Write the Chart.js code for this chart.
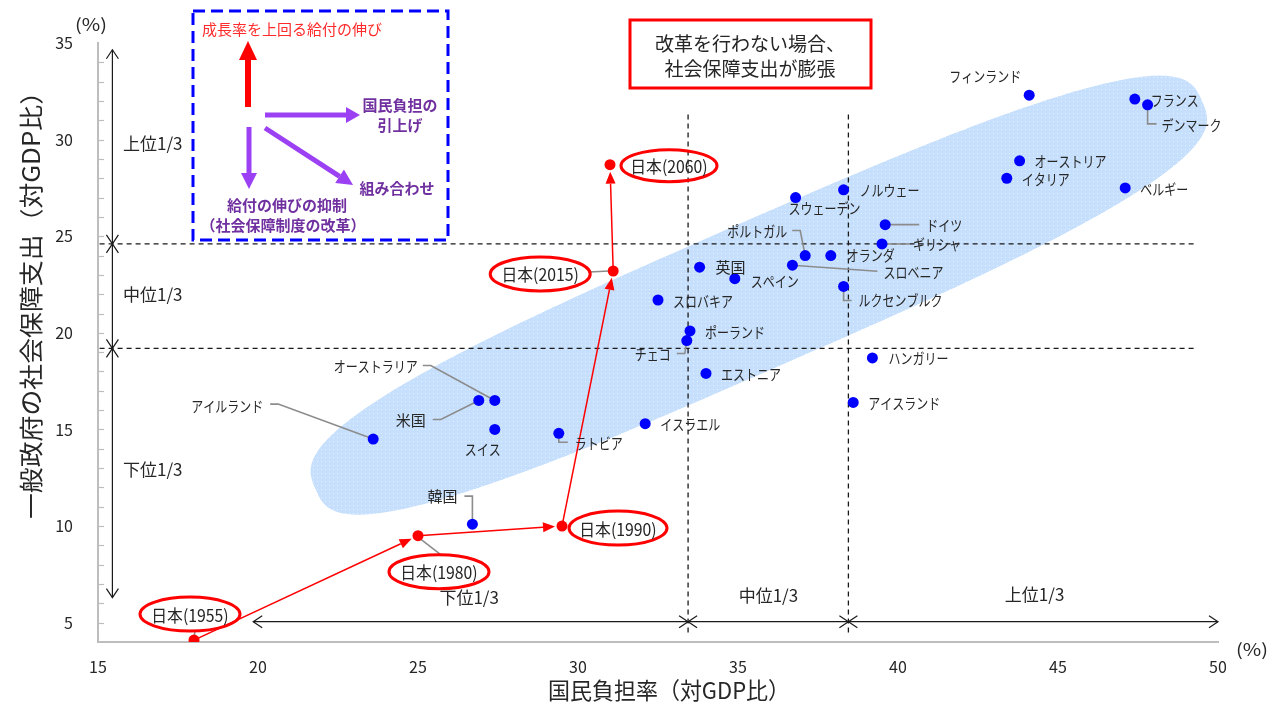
<!DOCTYPE html>
<html lang="ja">
<head>
<meta charset="utf-8">
<title>国民負担率と社会保障支出</title>
<script src="https://cdn.jsdelivr.net/npm/chart.js@4.4.1/dist/chart.umd.min.js"></script>
<style>
  html, body { margin: 0; padding: 0; background: #ffffff; }
  #wrap { position: relative; width: 1281px; height: 704px; }
</style>
</head>
<body>
<div id="wrap"><canvas id="c"></canvas></div>
<script>
const FONT = '"Noto Sans CJK JP", "Noto Sans", sans-serif';

// OECD countries: national burden rate (x, % of GDP) and general-government social spending (y, % of GDP)
const countries = ['フィンランド','フランス','デンマーク','オーストリア','イタリア','ベルギー','ノルウェー','スウェーデン','ドイツ','ギリシャ','ポルトガル','オランダ','スロベニア','ルクセンブルク','英国','スペイン','スロバキア','ポーランド','チェコ','ハンガリー','エストニア','アイスランド','イスラエル','ラトビア','スイス','米国','オーストラリア','アイルランド','韓国'];
const burdenRate     = [44.1, 47.4, 47.8, 43.8, 43.4, 47.1, 38.3, 36.8, 39.6, 39.5, 37.1, 37.9, 36.7, 38.3, 33.8, 34.9, 32.5, 33.5, 33.4, 39.2, 34.0, 38.6, 32.1, 29.4, 27.4, 26.9, 27.4, 23.6, 26.7];
const socialSpending = [32.3, 32.1, 31.8, 28.9, 28.0, 27.5, 27.4, 27.0, 25.6, 24.6, 24.0, 24.0, 23.5, 22.4, 23.4, 22.8, 21.7, 20.1, 19.6, 18.7, 17.9, 16.4, 15.3, 14.8, 15.0, 16.5, 16.5, 14.5, 10.1];

// Japan over time
const japanYears    = ['1955', '1980', '1990', '2015', '2060'];
const japanBurden   = [18.0, 25.0, 29.5, 31.1, 31.0];
const japanSpending = [4.1, 9.5, 10.0, 23.2, 28.7];

// tercile boundaries
const burdenCuts   = [33.44, 38.45];
const spendingCuts = [19.2, 24.6];

// axis ticks
const xTicks = [15, 20, 25, 30, 35, 40, 45, 50];
const yTicks = [5, 10, 15, 20, 25, 30, 35];

// label placement around each point (pixel offsets from the point)
const labelLayout = {
  'フィンランド':  { tx: -8,   ty: -19, align: 'right' },
  'フランス':      { tx: 16,   ty: 1 },
  'デンマーク':    { tx: 14,   ty: 20, leader: [[0,0],[0,19],[9,19]] },
  'オーストリア':  { tx: 15,   ty: 0 },
  'イタリア':      { tx: 15,   ty: 1 },
  'ベルギー':      { tx: 15,   ty: 1 },
  'ノルウェー':    { tx: 16,   ty: 0 },
  'スウェーデン':  { tx: -7,   ty: 11 },
  'ドイツ':        { tx: 41,   ty: 1, leader: [[0,0],[34,0]] },
  'ギリシャ':      { tx: 31,   ty: 0, leader: [[0,0],[28,0]] },
  'ポルトガル':    { tx: -18,  ty: -24, align: 'right', leader: [[-13,-25],[-5,-25],[0,0]] },
  'オランダ':      { tx: 16,   ty: 0 },
  'スロベニア':    { tx: 91,   ty: 7, leader: [[0,0],[85,6]] },
  'ルクセンブルク':{ tx: 15,   ty: 14, leader: [[0,0],[0,14],[8,14]] },
  '英国':          { tx: 16,   ty: 0 },
  'スペイン':      { tx: 16,   ty: 3 },
  'スロバキア':    { tx: 15,   ty: 1 },
  'ポーランド':    { tx: 15,   ty: 1 },
  'チェコ':        { tx: -16,  ty: 14, align: 'right', leader: [[0,0],[-2,13],[-10,13]] },
  'ハンガリー':    { tx: 16,   ty: 0 },
  'エストニア':    { tx: 15,   ty: 1 },
  'アイスランド':  { tx: 15,   ty: 1 },
  'イスラエル':    { tx: 15,   ty: 1 },
  'ラトビア':      { tx: 16,   ty: 10, leader: [[0,0],[0,9],[9,9]] },
  'スイス':        { tx: -30,  ty: 20 },
  '米国':          { tx: -53,  ty: 20, align: 'right', leader: [[0,0],[-38,19],[-46,19]] },
  'オーストラリア':{ tx: -77,  ty: -34, align: 'right', leader: [[0,0],[-64,-35],[-72,-35]] },
  'アイルランド':  { tx: -110, ty: -33, align: 'right', leader: [[0,0],[-95,-35],[-103,-35]] },
  '韓国':          { tx: -15,  ty: -28, align: 'right', leader: [[0,0],[0,-28],[-8,-28]] }
};
const japanLayout = [
  { ex: -4, ey: -26, rx: 50, ry: 17, leader: [[0,-1],[1,-10]] },
  { ex: 21, ey: 36,  rx: 50, ry: 17, leader: [[2,3],[24,20]] },
  { ex: 56, ey: 2,   rx: 49, ry: 17 },
  { ex: -73, ey: 3,  rx: 50, ry: 17, leader: [[-4,0],[-24,1]] },
  { ex: 59, ey: 1,   rx: 48, ry: 16 }
];

function hasKana(t) { return /[\u30A0-\u30FF]/.test(t); }

function drawText(ctx, text, x, y, align, sx) {
  ctx.save();
  ctx.translate(x, y);
  ctx.scale(sx || 1, 1);
  ctx.textAlign = align || 'left';
  ctx.textBaseline = 'middle';
  ctx.fillText(text, 0, 0);
  ctx.restore();
}

// centred text stretched or squeezed along its run to a given length
function drawFitted(ctx, text, x, y, length, angle) {
  const w = ctx.measureText(text).width;
  ctx.save();
  ctx.translate(x, y);
  ctx.rotate(angle || 0);
  ctx.scale(length / w, 1);
  ctx.textAlign = 'center';
  ctx.textBaseline = 'middle';
  ctx.fillText(text, 0, 0);
  ctx.restore();
}

function line(ctx, x0, y0, x1, y1) {
  ctx.beginPath(); ctx.moveTo(x0, y0); ctx.lineTo(x1, y1); ctx.stroke();
}

function chevron(ctx, tx, ty, dx, dy, len, half) {
  // open arrow head with its tip at (tx, ty), pointing along (dx, dy)
  const m = Math.hypot(dx, dy), ux = dx / m, uy = dy / m;
  ctx.beginPath();
  ctx.moveTo(tx - ux * len - uy * half, ty - uy * len + ux * half);
  ctx.lineTo(tx, ty);
  ctx.lineTo(tx - ux * len + uy * half, ty - uy * len - ux * half);
  ctx.stroke();
}

function doubleArrow(ctx, x0, y0, x1, y1) {
  line(ctx, x0, y0, x1, y1);
  chevron(ctx, x0, y0, x0 - x1, y0 - y1, 9, 6);
  chevron(ctx, x1, y1, x1 - x0, y1 - y0, 9, 6);
}

function solidArrow(ctx, x0, y0, x1, y1, width, headLen, headHalf, color) {
  const m = Math.hypot(x1 - x0, y1 - y0), ux = (x1 - x0) / m, uy = (y1 - y0) / m;
  const bx = x1 - ux * headLen, by = y1 - uy * headLen;
  ctx.strokeStyle = color; ctx.fillStyle = color; ctx.lineWidth = width; ctx.lineCap = 'butt';
  line(ctx, x0, y0, bx, by);
  ctx.beginPath();
  ctx.moveTo(x1, y1);
  ctx.lineTo(bx - uy * headHalf, by + ux * headHalf);
  ctx.lineTo(bx + uy * headHalf, by - ux * headHalf);
  ctx.closePath(); ctx.fill();
}

let bandFill = null;
function getBandFill(ctx) {
  if (bandFill) return bandFill;
  const c = document.createElement('canvas'); c.width = 4; c.height = 4;
  const g = c.getContext('2d');
  g.fillStyle = '#c6dffc'; g.fillRect(0, 0, 4, 4);
  g.fillStyle = 'rgba(255,255,255,0.55)'; g.fillRect(1, 1, 1, 1);
  bandFill = ctx.createPattern(c, 'repeat');
  return bandFill;
}

const decor = {
  id: 'decor',
  beforeDatasetsDraw(chart) {
    const ctx = chart.ctx;
    const X = v => chart.scales.x.getPixelForValue(v);
    const Y = v => chart.scales.y.getPixelForValue(v);
    ctx.save();

    // band of typical OECD combinations
    const x0 = X(21.8), y0 = Y(11.9), x1 = X(49.5), y1 = Y(32.0);
    const cx = (x0 + x1) / 2, cy = (y0 + y1) / 2;
    const ang = Math.atan2(y1 - y0, x1 - x0), a = Math.hypot(x1 - x0, y1 - y0) / 2, b = 73, n = 3.0;
    ctx.beginPath();
    for (let i = 0; i <= 400; i++) {
      const t = i / 400 * Math.PI * 2, c = Math.cos(t), s = Math.sin(t);
      const u = a * Math.sign(c) * Math.pow(Math.abs(c), 2 / n);
      const v = b * Math.sign(s) * Math.pow(Math.abs(s), 2 / n);
      const px = cx + u * Math.cos(ang) - v * Math.sin(ang);
      const py = cy + u * Math.sin(ang) + v * Math.cos(ang);
      if (i === 0) ctx.moveTo(px, py); else ctx.lineTo(px, py);
    }
    ctx.closePath();
    ctx.fillStyle = getBandFill(ctx);
    ctx.fill();

    // tercile boundaries
    ctx.strokeStyle = '#1a1a1a'; ctx.lineWidth = 1.3; ctx.setLineDash([5, 4]);
    spendingCuts.forEach(v => line(ctx, X(15.05), Y(v), X(49.27), Y(v)));
    burdenCuts.forEach(v => line(ctx, X(v), Y(31.3), X(v), Y(4.38)));
    ctx.setLineDash([]);

    // tercile range arrows
    ctx.strokeStyle = '#1a1a1a'; ctx.lineWidth = 1.2;
    const ax = X(15.45);
    [[34.65, spendingCuts[1]], [spendingCuts[1], spendingCuts[0]], [spendingCuts[0], 6.3]]
      .forEach(([p, q]) => doubleArrow(ctx, ax, Y(p), ax, Y(q)));
    const ay = Y(5.05);
    [[19.85, burdenCuts[0]], [burdenCuts[0], burdenCuts[1]], [burdenCuts[1], 50]]
      .forEach(([p, q]) => doubleArrow(ctx, X(p), ay, X(q), ay));

    // leader lines
    ctx.strokeStyle = '#8c8c8c'; ctx.lineWidth = 1.6;
    countries.forEach((name, i) => {
      const L = labelLayout[name];
      if (!L || !L.leader) return;
      const px = X(burdenRate[i]), py = Y(socialSpending[i]);
      ctx.beginPath();
      L.leader.forEach(([dx, dy], k) => k ? ctx.lineTo(px + dx, py + dy) : ctx.moveTo(px + dx, py + dy));
      ctx.stroke();
    });
    japanYears.forEach((yr, i) => {
      const L = japanLayout[i];
      if (!L.leader) return;
      const px = X(japanBurden[i]), py = Y(japanSpending[i]);
      ctx.beginPath();
      L.leader.forEach(([dx, dy], k) => k ? ctx.lineTo(px + dx, py + dy) : ctx.moveTo(px + dx, py + dy));
      ctx.stroke();
    });

    // Japan's path
    for (let i = 0; i < japanYears.length - 1; i++) {
      const p0x = X(japanBurden[i]), p0y = Y(japanSpending[i]);
      const p1x = X(japanBurden[i + 1]), p1y = Y(japanSpending[i + 1]);
      const m = Math.hypot(p1x - p0x, p1y - p0y);
      const ex = p1x - (p1x - p0x) / m * 7, ey = p1y - (p1y - p0y) / m * 7;
      solidArrow(ctx, p0x, p0y, ex, ey, 1.5, 12, 5, '#ff0000');
    }

    // Japan labels: red ellipses
    ctx.strokeStyle = '#ff0000'; ctx.lineWidth = 3;
    japanYears.forEach((yr, i) => {
      const L = japanLayout[i];
      const px = X(japanBurden[i]) + L.ex, py = Y(japanSpending[i]) + L.ey;
      ctx.beginPath(); ctx.ellipse(px, py, L.rx, L.ry, 0, 0, Math.PI * 2); ctx.stroke();
    });
    ctx.restore();
  },

  afterDatasetsDraw(chart) {
    const ctx = chart.ctx;
    const X = v => chart.scales.x.getPixelForValue(v);
    const Y = v => chart.scales.y.getPixelForValue(v);
    ctx.save();

    // country names
    ctx.fillStyle = '#262626';
    ctx.font = '15px ' + FONT;
    countries.forEach((name, i) => {
      const L = labelLayout[name] || { tx: 15, ty: 0 };
      drawText(ctx, name, X(burdenRate[i]) + L.tx, Y(socialSpending[i]) + L.ty, L.align || 'left', hasKana(name) ? 0.8 : 1);
    });

    // Japan names
    ctx.font = '17px ' + FONT;
    japanYears.forEach((yr, i) => {
      const L = japanLayout[i];
      drawText(ctx, '日本(' + yr + ')', X(japanBurden[i]) + L.ex, Y(japanSpending[i]) + L.ey + 1, 'center', 0.93);
    });

    // tercile names
    ctx.font = '17px ' + FONT;
    drawText(ctx, '上位1/3', 123, Y(29.8), 'left');
    drawText(ctx, '中位1/3', 123, Y(22.0), 'left');
    drawText(ctx, '下位1/3', 123, Y(12.9), 'left');
    drawText(ctx, '下位1/3', X(26.6), Y(6.3), 'center');
    drawText(ctx, '中位1/3', X(35.95), Y(6.4), 'center');
    drawText(ctx, '上位1/3', X(44.27), Y(6.45), 'center');

    // units
    ctx.font = '17px ' + FONT;
    drawFitted(ctx, '(%)', 91, 25, 32, 0);
    drawFitted(ctx, '(%)', 1252, 650, 32, 0);

    // axis titles
    ctx.fillStyle = '#262626';
    ctx.font = '23px ' + FONT;
    drawFitted(ctx, '国民負担率（対GDP比）', 669, 690, 242, 0);
    ctx.font = '24px ' + FONT;
    drawFitted(ctx, '一般政府の社会保障支出（対GDP比）', 31, 299, 440, -Math.PI / 2);

    // reform box
    ctx.setLineDash([12, 6]);
    ctx.strokeStyle = '#0000ff'; ctx.lineWidth = 3;
    ctx.strokeRect(193, 11, 255, 229);
    ctx.setLineDash([]);
    ctx.fillStyle = '#ff2a2a';
    ctx.font = '15px ' + FONT;
    drawText(ctx, '成長率を上回る給付の伸び', 292, 29, 'center');
    solidArrow(ctx, 248, 107, 248, 41, 6, 19, 9, '#ff0000');
    const purple = '#9b40f2';
    solidArrow(ctx, 265, 115, 360, 115, 5, 14, 8, purple);
    solidArrow(ctx, 249, 127, 249, 189, 5, 16, 8, purple);
    solidArrow(ctx, 265, 128, 353, 185, 5, 16, 8, purple);
    ctx.fillStyle = '#7030a0';
    ctx.font = 'bold 15px ' + FONT;
    drawText(ctx, '国民負担の', 400, 105, 'center');
    drawText(ctx, '引上げ', 400, 125, 'center');
    drawText(ctx, '組み合わせ', 397, 188, 'center');
    drawText(ctx, '給付の伸びの抑制', 287, 205, 'center');
    drawText(ctx, '（社会保障制度の改革）', 283, 225, 'center');

    // no-reform note
    ctx.strokeStyle = '#ff0000'; ctx.lineWidth = 3;
    ctx.strokeRect(630, 20, 241, 68);
    ctx.fillStyle = '#262626';
    ctx.font = '19px ' + FONT;
    drawText(ctx, '改革を行わない場合、', 750, 44, 'center');
    drawText(ctx, '社会保障支出が膨張', 750, 69, 'center');
    ctx.restore();
  }
};

new Chart(document.getElementById('c'), {
  type: 'scatter',
  data: {
    datasets: [
      {
        label: 'OECD諸国',
        data: countries.map((n, i) => ({ x: burdenRate[i], y: socialSpending[i] })),
        backgroundColor: '#0000ff', borderWidth: 0, pointRadius: 5.5, pointHoverRadius: 5.5
      },
      {
        label: '日本',
        data: japanYears.map((n, i) => ({ x: japanBurden[i], y: japanSpending[i] })),
        backgroundColor: '#ff0000', borderWidth: 0, pointRadius: 5.5, pointHoverRadius: 5.5
      }
    ]
  },
  options: {
    responsive: true,
    maintainAspectRatio: false,
    animation: false,
    events: [],
    layout: { padding: { top: 43, right: 63, left: 0, bottom: 0 } },
    plugins: { legend: { display: false }, tooltip: { enabled: false } },
    scales: {
      x: {
        type: 'linear', min: 15, max: 50,
        afterBuildTicks: s => { s.ticks = xTicks.map(v => ({ value: v })); },
        afterFit: s => { s.height = 62; },
        grid: { display: false, drawTicks: false },
        border: { display: true, color: '#bdbdbd', width: 2 },
        ticks: { font: { family: FONT, size: 16 }, color: '#262626', padding: 15, maxRotation: 0, autoSkip: false }
      },
      y: {
        type: 'linear', min: 4, max: 35,
        afterBuildTicks: s => { s.ticks = yTicks.map(v => ({ value: v })); },
        afterFit: s => { s.width = 98; },
        grid: { display: false, drawTicks: false },
        border: { display: true, color: '#bdbdbd', width: 2 },
        ticks: { font: { family: FONT, size: 16 }, color: '#262626', padding: 25, autoSkip: false }
      }
    }
  },
  plugins: [decor, {
    id: 'minorTicks',
    beforeDatasetsDraw(chart) {
      const ctx = chart.ctx, y = chart.scales.y, left = chart.chartArea.left;
      ctx.save();
      ctx.strokeStyle = '#bdbdbd'; ctx.lineWidth = 1.2;
      for (let v = 5; v <= 34; v++) {
        const p = Math.round(y.getPixelForValue(v)) + 0.5;
        line(ctx, left, p, left + 6, p);
      }
      ctx.restore();
    }
  }]
});
</script>
</body>
</html>
